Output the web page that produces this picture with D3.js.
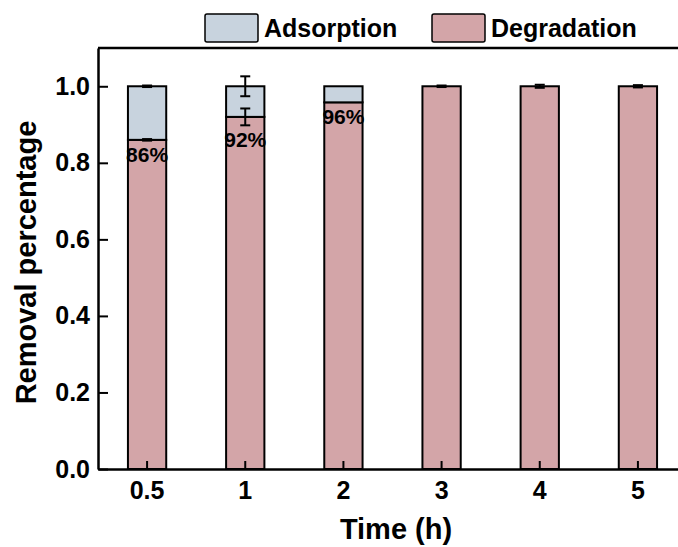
<!DOCTYPE html>
<html>
<head>
<meta charset="utf-8">
<script src="https://cdn.jsdelivr.net/npm/d3@7"></script>
<style>
  body { margin: 0; background: #fff; }
  svg text { font-family: "Liberation Sans", Arial, sans-serif; font-weight: bold; fill: #000; }
</style>
</head>
<body>
<svg id="chart" width="678" height="547"></svg>
<script>
// values
const times = ["0.5", "1", "2", "3", "4", "5"];
const degradation = [0.86, 0.92, 0.958, 1.0, 1.0, 1.0];
const adsorption = [0.14, 0.08, 0.042, 0, 0, 0];
const totalErr = [0.002, 0.026, 0, 0.002, 0.004, 0.003];
const degErr = [0.002, 0.022, 0, 0, 0, 0];
const pctLabels = ["86%", "92%", "96%", "", "", ""];
const yTicks = [0, 0.2, 0.4, 0.6, 0.8, 1.0];
const seriesNames = ["Adsorption", "Degradation"];
const colors = { Adsorption: "#c8d3de", Degradation: "#d3a5a8" };

const svg = d3.select("#chart");
const plotLeft = 98, plotTop = 48, plotBottom = 469, plotRight = 687;

const x = d3.scaleBand().domain(times).range([plotLeft, plotRight])
    .paddingInner(0.61).paddingOuter(0.305);
const y = d3.scaleLinear().domain([0, 1.1]).range([plotBottom, plotTop]);

const rows = times.map((t, i) => ({ t, deg: degradation[i], ads: adsorption[i], i }));

// bars: degradation at the bottom, adsorption stacked on top
const g = svg.append("g");
g.selectAll(".deg").data(rows).enter().append("rect")
    .attr("class", "deg")
    .attr("x", d => x(d.t))
    .attr("width", x.bandwidth())
    .attr("y", d => y(d.deg))
    .attr("height", d => y(0) - y(d.deg))
    .attr("fill", colors.Degradation)
    .attr("stroke", "#000").attr("stroke-width", 2);

g.selectAll(".ads").data(rows.filter(d => d.ads > 0)).enter().append("rect")
    .attr("class", "ads")
    .attr("x", d => x(d.t))
    .attr("width", x.bandwidth())
    .attr("y", d => y(d.deg + d.ads))
    .attr("height", d => y(d.deg) - y(d.deg + d.ads))
    .attr("fill", colors.Adsorption)
    .attr("stroke", "#000").attr("stroke-width", 2);

// error bars
function errorBar(cx, val, err) {
    const cap = 5;
    const eg = g.append("g").attr("stroke", "#000").attr("stroke-width", 2);
    eg.append("line").attr("x1", cx).attr("x2", cx).attr("y1", y(val - err)).attr("y2", y(val + err));
    eg.append("line").attr("x1", cx - cap).attr("x2", cx + cap).attr("y1", y(val + err)).attr("y2", y(val + err));
    eg.append("line").attr("x1", cx - cap).attr("x2", cx + cap).attr("y1", y(val - err)).attr("y2", y(val - err));
}
rows.forEach(d => {
    const cx = x(d.t) + x.bandwidth() / 2;
    if (totalErr[d.i] > 0) errorBar(cx, d.deg + d.ads, totalErr[d.i]);
    if (degErr[d.i] > 0) errorBar(cx, d.deg, degErr[d.i]);
});

// percentage labels under the degradation top
g.selectAll(".pct").data(rows.filter(d => pctLabels[d.i])).enter().append("text")
    .attr("class", "pct")
    .attr("x", d => x(d.t) + x.bandwidth() / 2)
    .attr("y", d => y(d.deg - degErr[d.i]) + 6)
    .attr("dy", "0.75em")
    .attr("text-anchor", "middle")
    .style("font-size", "21px")
    .text(d => pctLabels[d.i]);

// axes
const yAxis = svg.append("g").attr("transform", `translate(${plotLeft},0)`)
    .call(d3.axisLeft(y).tickValues(yTicks).tickFormat(d3.format(".1f"))
        .tickSize(-10).tickSizeOuter(0).tickPadding(8));
const xAxis = svg.append("g").attr("transform", `translate(0,${plotBottom})`)
    .call(d3.axisBottom(x).tickSize(-8).tickSizeOuter(0).tickPadding(12));

[yAxis, xAxis].forEach(a => {
    a.select(".domain").attr("stroke", "#000").attr("stroke-width", 2.5);
    a.selectAll(".tick line").attr("stroke", "#000").attr("stroke-width", 2);
    a.selectAll(".tick text").style("font-size", "25px").attr("fill", "#000");
});

// top frame line
svg.append("line").attr("x1", plotLeft).attr("x2", plotRight).attr("y1", plotTop).attr("y2", plotTop)
    .attr("stroke", "#000").attr("stroke-width", 2.5);

// axis titles
svg.append("text").attr("x", 396).attr("y", 539)
    .attr("text-anchor", "middle").style("font-size", "29px").text("Time (h)");
svg.append("text").attr("transform", `translate(36,${(plotTop + plotBottom) / 2 + 4}) rotate(-90)`)
    .attr("text-anchor", "middle").style("font-size", "29px").text("Removal percentage");

// legend
const legendX = [205, 432];
seriesNames.forEach((name, i) => {
    const lg = svg.append("g").attr("transform", `translate(${legendX[i]},14)`);
    lg.append("rect").attr("width", 53).attr("height", 28).attr("rx", 2)
        .attr("fill", colors[name]).attr("stroke", "#000").attr("stroke-width", 1.5);
    lg.append("text").attr("x", 59).attr("y", 23).style("font-size", "25px").text(name);
});
</script>
</body>
</html>
